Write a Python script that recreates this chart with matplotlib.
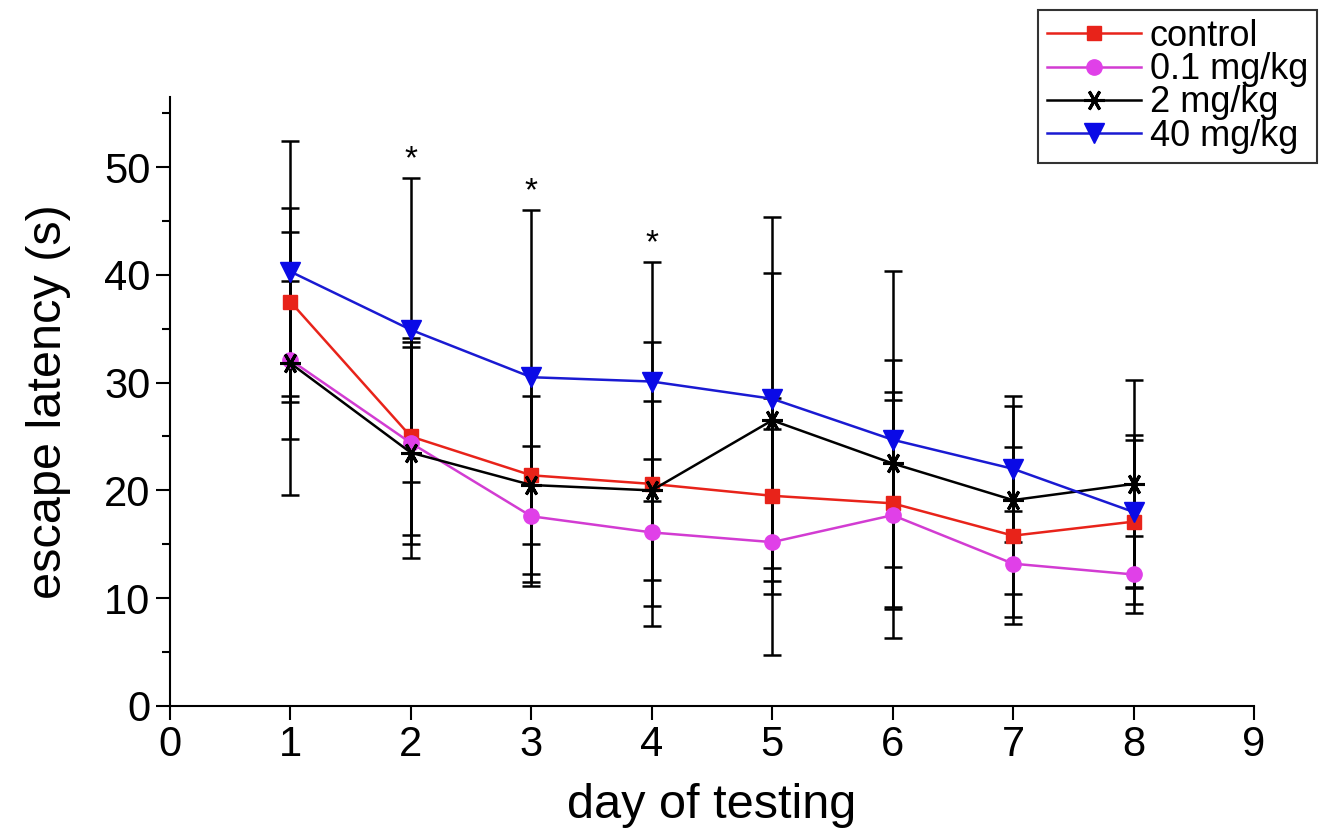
import numpy as np
import matplotlib
matplotlib.use('Agg')
import matplotlib.pyplot as plt

plt.rcParams['font.family'] = ['Liberation Sans', 'DejaVu Sans']

days = [1, 2, 3, 4, 5, 6, 7, 8]

control = [37.5, 25.0, 21.4, 20.6, 19.5, 18.8, 15.8, 17.1]
control_sd = [8.7, 9.1, 9.9, 13.2, 9.1, 9.6, 8.2, 7.6]

dose01 = [32.1, 24.4, 17.6, 16.1, 15.2, 17.7, 13.2, 12.2]
dose01_sd = [7.3, 9.4, 6.5, 6.8, 10.5, 11.4, 4.9, 3.6]

dose2 = [31.8, 23.5, 20.5, 20.0, 26.5, 22.5, 19.1, 20.6]
dose2_sd = [12.2, 9.8, 8.3, 8.3, 13.7, 9.6, 8.7, 9.6]

dose40 = [40.3, 34.9, 30.5, 30.1, 28.5, 24.7, 22.0, 18.0]
dose40_sd = [12.1, 14.1, 15.5, 11.1, 16.9, 15.7, 6.8, 7.1]

labels = ['control', '0.1 mg/kg', '2 mg/kg', '40 mg/kg']
signif_days = [2, 3, 4]

fig = plt.figure(figsize=(13.34, 8.33), dpi=100)
ax = fig.add_axes([0.1274, 0.1525, 0.8126, 0.7311])

means = [control, dose01, dose2, dose40]
sds = [control_sd, dose01_sd, dose2_sd, dose40_sd]

for m, s in zip(means, sds):
    ax.errorbar(days, m, yerr=s, fmt='none', ecolor='black', elinewidth=1.8,
                capsize=6.5, capthick=1.8, zorder=1)

ax.plot(days, control, color='#e8231a', lw=1.8, marker='s', ms=10,
        mfc='#e8231a', mec='#e8231a', label=labels[0], zorder=3)
ax.plot(days, dose01, color='#d23cd2', lw=1.8, marker='o', ms=11,
        mfc='#e040e8', mec='#e040e8', label=labels[1], zorder=3)
ax.plot(days, dose2, color='black', lw=1.8, marker=(6, 2, 90), ms=15,
        mew=2.2, label=labels[2], zorder=3)
ax.plot(days, dose40, color='#1a1ad2', lw=1.8, marker='v', ms=14,
        mfc='#0a0ae6', mec='#0a0ae6', label=labels[3], zorder=4)

# asterisks over the tallest bar
for d in signif_days:
    i = days.index(d)
    top = max(m[i] + s[i] for m, s in zip(means, sds))
    ax.annotate('*', xy=(d, top), xytext=(0, 2), textcoords='offset points',
                ha='center', va='bottom', fontsize=24)

ax.set_xlim(0, 9)
ax.set_ylim(0, 56.5)
ax.set_xticks(range(0, 10))
ax.set_yticks(range(0, 60, 10))
ax.set_yticks(range(5, 60, 10), minor=True)
ax.spines['top'].set_visible(False)
ax.spines['right'].set_visible(False)
ax.spines['left'].set_linewidth(1.5)
ax.spines['bottom'].set_linewidth(1.5)
ax.tick_params(axis='both', which='major', direction='out', length=10, width=1.5,
               labelsize=30, pad=4)
ax.tick_params(axis='y', which='minor', direction='out', length=6, width=1.5)

ax.set_xlabel('day of testing', fontsize=35, labelpad=13)
ax.set_ylabel('escape latency (s)', fontsize=35, labelpad=24)

leg = fig.legend(loc='upper left', bbox_to_anchor=(1038 / 1334, 1 - 10 / 833),
                 bbox_transform=fig.transFigure, fontsize=26, frameon=True,
                 fancybox=False, borderaxespad=0, handlelength=2.6,
                 handletextpad=0.25, labelspacing=-0.05, borderpad=0.25)
leg.get_frame().set_edgecolor('black')
leg.get_frame().set_linewidth(1.5)

plt.savefig('out.png', dpi=100)
